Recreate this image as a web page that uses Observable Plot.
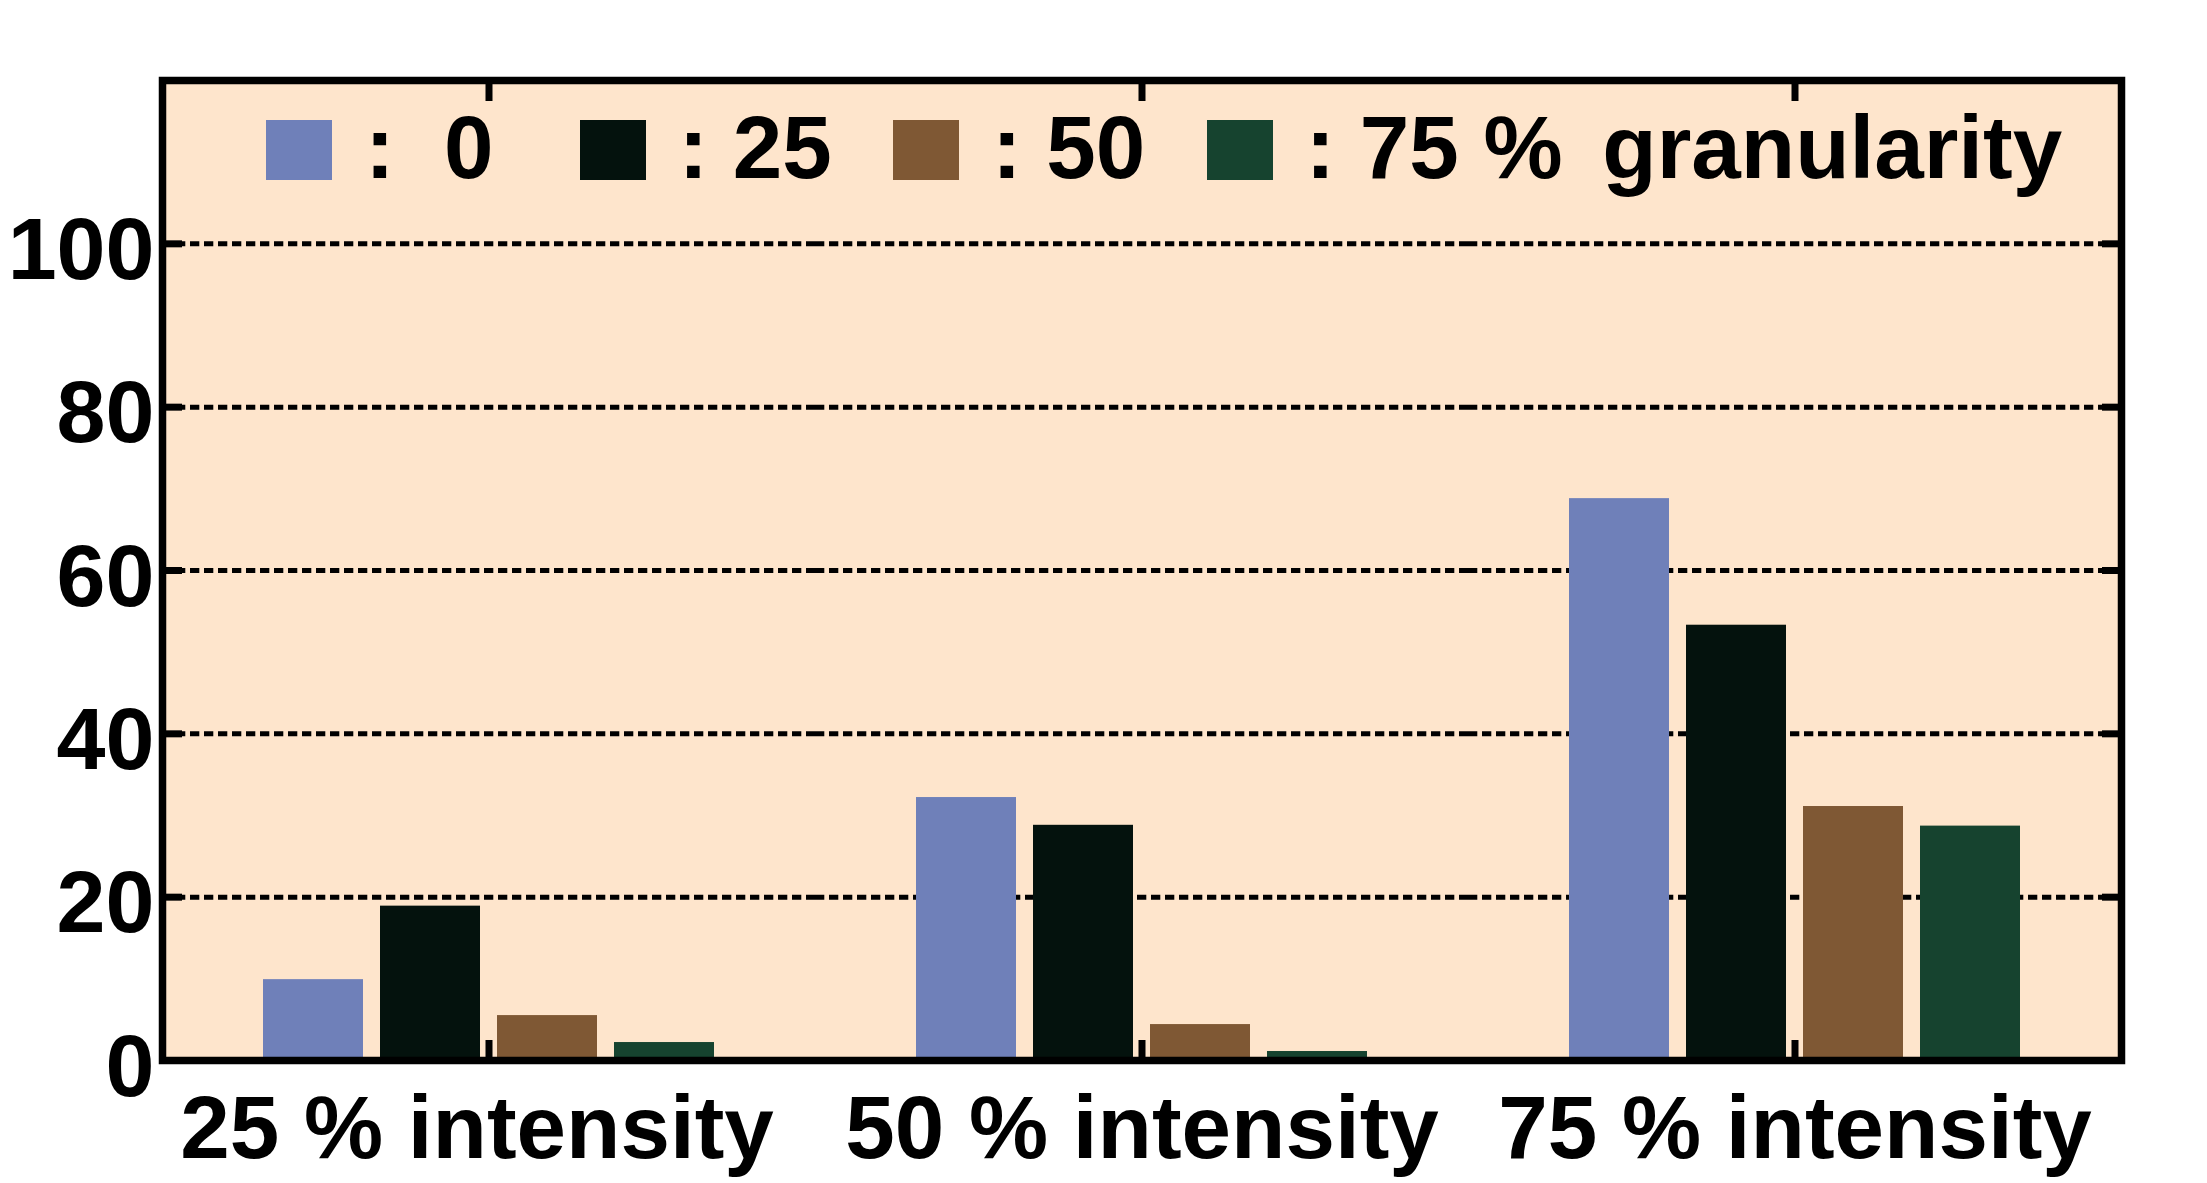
<!DOCTYPE html>
<html><head><meta charset="utf-8">
<script src="https://cdn.jsdelivr.net/npm/d3@7"></script>
<script src="https://cdn.jsdelivr.net/npm/@observablehq/plot@0.6"></script>
<style>
html,body{margin:0;padding:0;background:#fff;}
#wrap{position:relative;width:2207px;height:1183px;font-family:"Liberation Sans",Arial,Helvetica,sans-serif;font-weight:bold;}
#wrap svg{display:block;}
.leg{position:absolute;top:120px;height:60px;display:flex;align-items:center;}
.sw{width:66px;height:60px;flex:none;}
.lt{font-size:89px;line-height:60px;white-space:pre;margin-left:33px;position:relative;top:-3.5px;color:#000;}
</style></head><body><div id="wrap"></div>
<script>
// categories and series
const groups = ["25 % intensity", "50 % intensity", "75 % intensity"];
const series = ["0", "25", "50", "75"];
const legendLabels = [":\u00a0\u00a00", ": 25", ": 50", ": 75 %\u00a0\u2006granularity"];
const colors = ["#6f80b9", "#04120d", "#7f5834", "#16432f"];
// values per granularity series, one per intensity group
const values0 = [9.9, 32.2, 68.8];
const values25 = [18.9, 28.8, 53.3];
const values50 = [5.5, 4.4, 31.1];
const values75 = [2.2, 1.1, 28.7];
const yTicks = [0, 20, 40, 60, 80, 100];
const yDomain = [0, 120];

const seriesValues = [values0, values25, values50, values75];
const data = [];
groups.forEach((g, gi) => series.forEach((s, si) => data.push({group: g, series: s, value: seriesValues[si][gi]})));

const bg = "#fee5cc";
const noText = () => "";
const labelOpts = {fx: d => d, text: d => d, frameAnchor: "bottom", lineAnchor: "top", dy: 34, fontSize: 89, fill: "#000"};

const chart = Plot.plot({
  width: 2207, height: 1183,
  marginLeft: 162, marginRight: 86, marginTop: 80, marginBottom: 123,
  style: {fontFamily: "'Liberation Sans', Arial, Helvetica, sans-serif", fontWeight: "bold", fontSize: "88px", background: "transparent", color: "#000"},
  fx: {domain: groups, padding: 0, label: null},
  x: {domain: series, paddingInner: 0.149, paddingOuter: 0.851, axis: null},
  y: {domain: yDomain, axis: null},
  color: {domain: series, range: colors},
  marks: [
    Plot.frame({fill: bg, stroke: "none", shapeRendering: "crispEdges"}),
    Plot.gridY(yTicks.slice(1), {stroke: "#000", strokeOpacity: 1, strokeWidth: 5, strokeDasharray: "9.3,4.7"}),
    Plot.barY(data, {fx: "group", x: "series", y: "value", fill: "series"}),
    Plot.frame({facet: "super", stroke: "#000", strokeWidth: 7.5, fill: "none"}),
    Plot.axisY(yTicks, {anchor: "left", tickSize: 0, tickPadding: 8, dy: 7, label: null}),
    Plot.axisY(yTicks.slice(1), {anchor: "left", tickSize: -20, strokeWidth: 7, tickFormat: noText, label: null}),
    Plot.axisY(yTicks.slice(1), {anchor: "right", tickSize: -20, strokeWidth: 7, tickFormat: noText, label: null}),
    Plot.text(groups.slice(0, 1), {...labelOpts, dx: -12}),
    Plot.text(groups.slice(1), labelOpts),
    Plot.axisFx({anchor: "bottom", tickSize: -20, strokeWidth: 7, tickFormat: noText, label: null}),
    Plot.axisFx({anchor: "top", tickSize: -20, strokeWidth: 7, tickFormat: noText, label: null})
  ]
});

const wrap = document.getElementById("wrap");
wrap.appendChild(chart);

// legend overlay inside the plot frame
series.forEach((s, i) => {
  const item = document.createElement("div");
  item.className = "leg";
  item.style.left = (266 + i * 313.5) + "px";
  const sw = document.createElement("div");
  sw.className = "sw";
  sw.style.background = colors[i];
  const t = document.createElement("span");
  t.className = "lt";
  t.textContent = legendLabels[i];
  item.appendChild(sw);
  item.appendChild(t);
  wrap.appendChild(item);
});
</script></body></html>
